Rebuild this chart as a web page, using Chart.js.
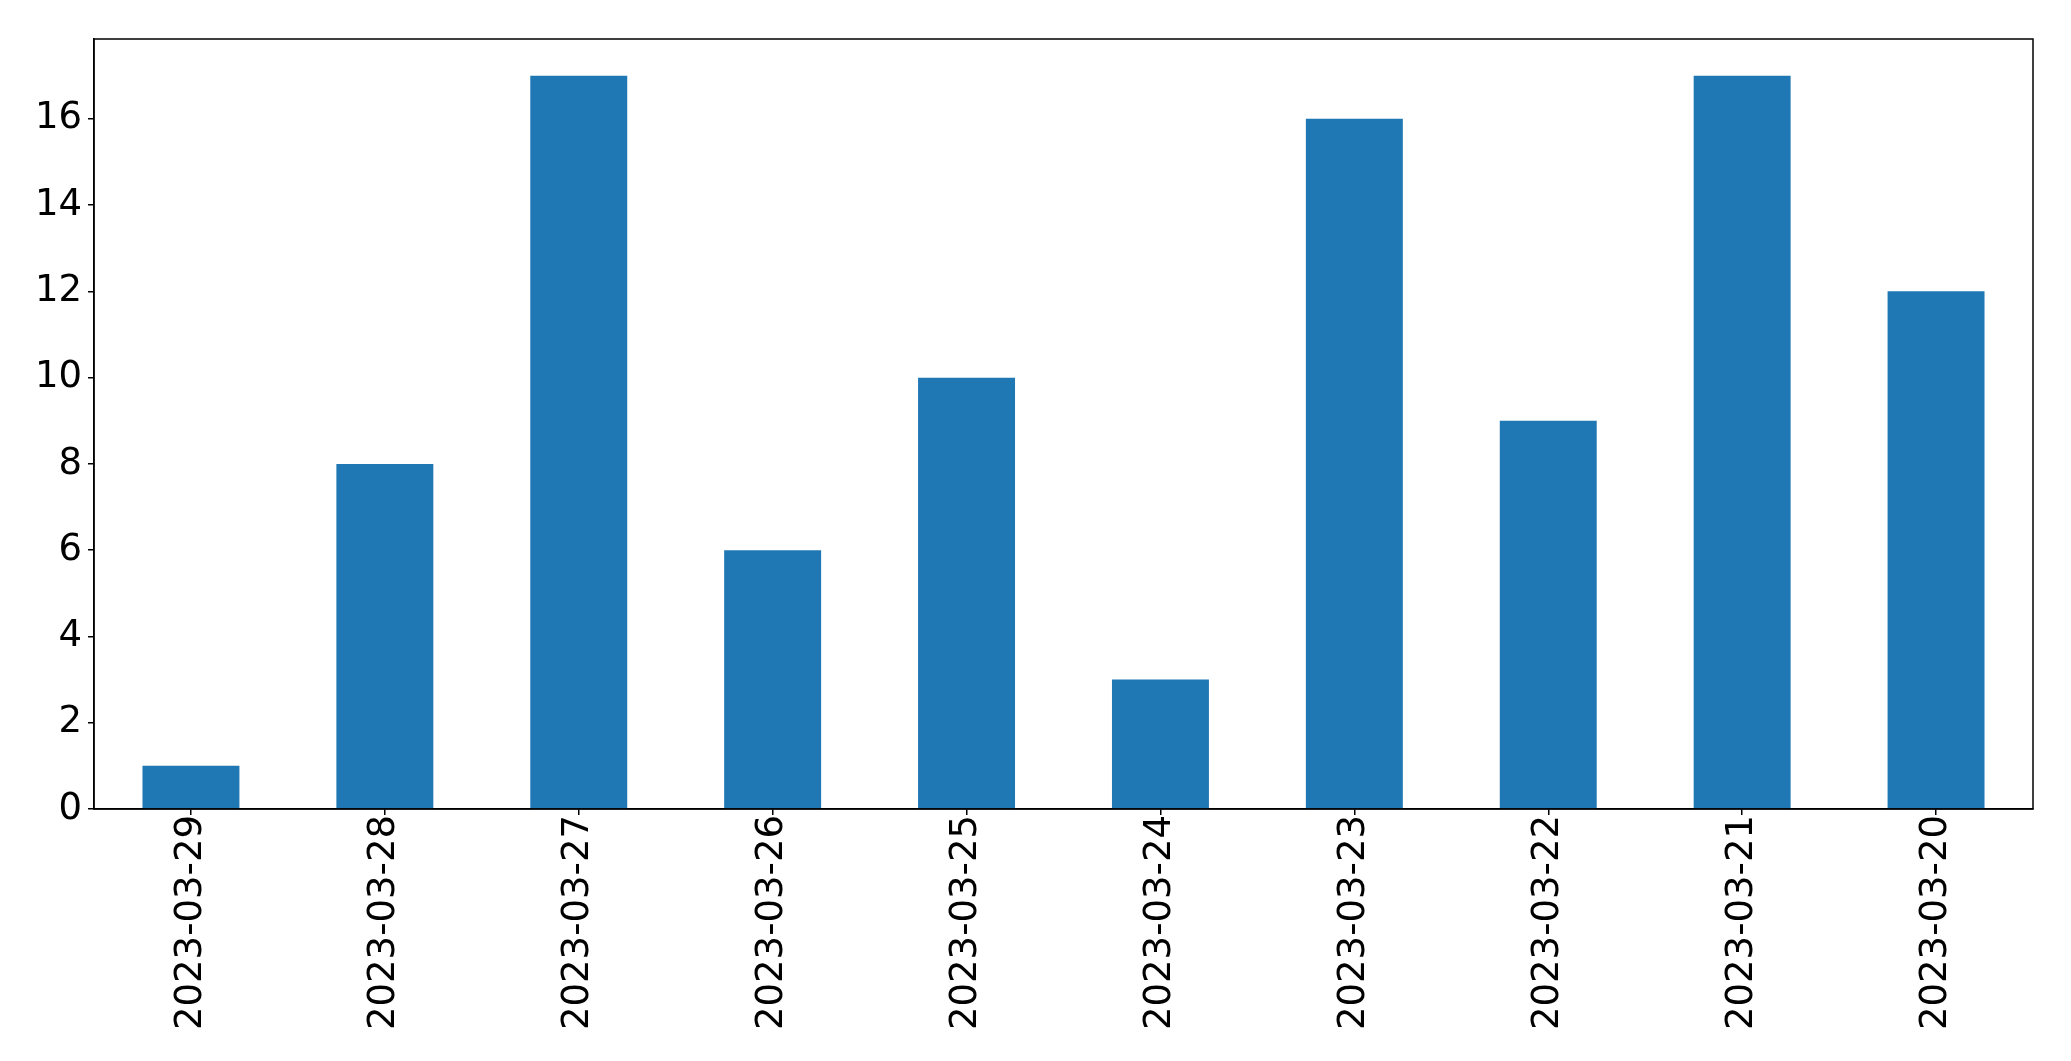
<!DOCTYPE html>
<html>
<head>
<meta charset="utf-8">
<script src="https://cdn.jsdelivr.net/npm/chart.js@4"></script>
<style>
  body { margin: 0; background: #fff; }
  canvas { display: block; }
</style>
</head>
<body>
<canvas id="barChart" width="2071" height="1061"></canvas>
<script>
const dates = ["2023-03-29", "2023-03-28", "2023-03-27", "2023-03-26", "2023-03-25",
               "2023-03-24", "2023-03-23", "2023-03-22", "2023-03-21", "2023-03-20"];
const counts = [1, 8, 17, 6, 10, 3, 16, 9, 17, 12];
const yTicks = [0, 2, 4, 6, 8, 10, 12, 14, 16];

// draw the full box round the plot area, like matplotlib
const frame = {
  id: "frame",
  afterDraw(chart) {
    const { ctx, chartArea: a } = chart;
    ctx.save();
    ctx.strokeStyle = "#000";
    ctx.lineWidth = 1.5;
    ctx.strokeRect(a.left, a.top, a.right - a.left, a.bottom - a.top);
    ctx.restore();
  }
};

const ctx = document.getElementById("barChart").getContext("2d");
const chart = new Chart(ctx, {
  type: "bar",
  data: {
    labels: dates,
    datasets: [{ data: counts, backgroundColor: "#1f77b4", barPercentage: 0.5, categoryPercentage: 1 }]
  },
  options: {
    responsive: false,
    animation: false,
    layout: { padding: { top: 39, right: 38, left: 0, bottom: 0 } },
    plugins: { legend: { display: false }, tooltip: { enabled: false } },
    scales: {
      x: {
        offset: true,
        grid: { display: true, drawOnChartArea: false, drawTicks: true, tickLength: 6, color: "#000", lineWidth: 1.5, offset: false },
        border: { display: true, color: "#000", width: 1.5 },
        ticks: {
          color: "#000", maxRotation: 90, minRotation: 90, padding: 0, autoSkip: false,
          font: { family: "DejaVu Sans", size: 37 }
        },
        afterFit(scale) { scale.height = 252; }
      },
      y: {
        min: 0,
        max: 17.85,
        grid: { display: true, drawOnChartArea: false, drawTicks: true, tickLength: 6, color: "#000", lineWidth: 1.5 },
        border: { display: true, color: "#000", width: 1.5 },
        ticks: { color: "#000", padding: 6, font: { family: "DejaVu Sans", size: 37 } },
        afterBuildTicks(scale) { scale.ticks = yTicks.map(v => ({ value: v })); },
        afterFit(scale) { scale.width = 94; }
      }
    }
  },
  plugins: [frame]
});
</script>
</body>
</html>
